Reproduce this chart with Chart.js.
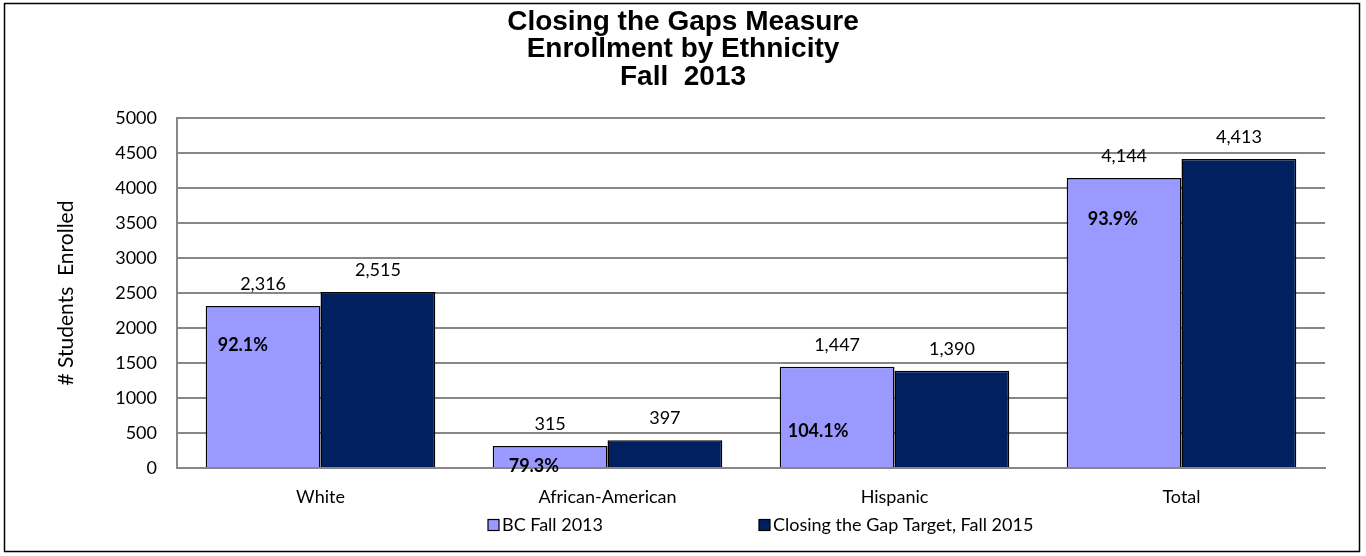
<!DOCTYPE html>
<html>
<head>
<meta charset="utf-8">
<script src="https://cdn.jsdelivr.net/npm/chart.js@4.4.0/dist/chart.umd.min.js"></script>
<style>
  html, body { margin: 0; padding: 0; background: #fff; }
  #wrap { position: relative; width: 1366px; height: 556px; }
</style>
</head>
<body>
<div id="wrap"><canvas id="chart" width="1366" height="556"></canvas></div>
<script>
const titleLines = ['Closing the Gaps Measure', 'Enrollment by Ethnicity', 'Fall  2013'];
const categories = ['White', 'African-American', 'Hispanic', 'Total'];
const bcFall2013 = [2316, 315, 1447, 4144];
const target2015 = [2515, 397, 1390, 4413];
const seriesNames = ['BC Fall 2013', 'Closing the Gap Target, Fall 2015'];
const yAxisTitle = '# Students  Enrolled';
const yMax = 5000;
const yStep = 500;

const LIGHT = '#9999ff';
const DARK = '#002060';
const GRID = '#878787';
const FONT = 'Lato, "Open Sans", sans-serif';

const pctLabels = bcFall2013.map((v, i) => (v / target2015[i] * 100).toFixed(1) + '%');

const fmt = n => n.toLocaleString('en-US');

const extras = {
    id: 'extras',
    afterDatasetsDraw(chart, args, opts) {
        const ctx = chart.ctx;
        const y = chart.scales.y;
        ctx.save();
        // value labels above bars
        ctx.fillStyle = '#000';
        ctx.font = '18px ' + FONT;
        ctx.textAlign = 'center';
        ctx.textBaseline = 'middle';
        chart.data.datasets.forEach((ds, di) => {
            chart.getDatasetMeta(di).data.forEach((bar, i) => {
                ctx.fillText(fmt(ds.data[i]), bar.x, bar.y - 22);
            });
        });
        // percentage labels inside the light bars
        ctx.font = 'bold 18px ' + FONT;
        ctx.textAlign = 'left';
        chart.getDatasetMeta(0).data.forEach((bar, i) => {
            ctx.fillText(pctLabels[i], bar.x - bar.width / 2 + opts.pctDx[i], y.getPixelForValue(opts.pctAt[i]));
        });
        ctx.restore();
    },
    afterDraw(chart, args, opts) {
        const ctx = chart.ctx;
        const area = chart.chartArea;
        ctx.save();
        // outer frame
        ctx.strokeStyle = '#000';
        ctx.lineWidth = 1.5;
        ctx.strokeRect(4.5, 3.5, 1355, 548);
        // title, centred on the whole frame
        ctx.fillStyle = '#000';
        ctx.font = 'bold 28px "Liberation Sans", Arial, sans-serif';
        ctx.textAlign = 'center';
        ctx.textBaseline = 'middle';
        titleLines.forEach((t, i) => ctx.fillText(t, chart.width / 2, opts.titleY + i * 27.5));
        // legend
        ctx.font = '18px ' + FONT;
        ctx.textAlign = 'left';
        const box = 11, gapBox = 3, gapItem = 156;
        let x = area.left + opts.legendDx;
        const ly = opts.legendY;
        chart.data.datasets.forEach(ds => {
            ctx.fillStyle = ds.backgroundColor;
            ctx.fillRect(x, ly - box / 2, box, box);
            ctx.strokeStyle = '#000';
            ctx.lineWidth = 1.2;
            ctx.strokeRect(x, ly - box / 2, box, box);
            ctx.fillStyle = '#000';
            ctx.fillText(ds.label, x + box + gapBox, ly);
            x += box + gapBox + ctx.measureText(ds.label).width + gapItem;
        });
        ctx.restore();
    }
};

new Chart(document.getElementById('chart'), {
    type: 'bar',
    data: {
        labels: categories,
        datasets: [
            { label: seriesNames[0], data: bcFall2013, backgroundColor: LIGHT, borderColor: '#000', borderWidth: 1.5 },
            { label: seriesNames[1], data: target2015, backgroundColor: DARK, borderColor: '#000', borderWidth: 1.5 }
        ]
    },
    options: {
        responsive: false,
        animation: false,
        events: [],
        layout: { padding: { left: 0, right: 41, top: 118, bottom: 38 } },
        datasets: { bar: { categoryPercentage: 0.8, barPercentage: 1 } },
        plugins: {
            legend: { display: false },
            tooltip: { enabled: false },
            title: { display: false },
            extras: {
                titleY: 22,
                pctAt: [1760, 30, 520, 3560],
                pctDx: [12, 16, 8, 21],
                legendDx: 311,
                legendY: 525
            }
        },
        scales: {
            x: {
                grid: { display: false, drawTicks: false },
                border: { display: true, color: GRID, width: 2 },
                ticks: { color: '#000', font: { family: FONT, size: 18 }, padding: 18 },
                afterFit(s) { s.height = 50; }
            },
            y: {
                min: 0,
                max: yMax,
                ticks: { stepSize: yStep, color: '#000', font: { family: FONT, size: 18 }, padding: 20, callback: v => String(v) },
                grid: { color: GRID, lineWidth: 2, drawTicks: false },
                border: { display: true, color: GRID, width: 2 },
                title: {
                    display: true,
                    text: yAxisTitle,
                    color: '#000',
                    font: { family: FONT, size: 21 },
                    padding: { top: 54, bottom: 0 }
                },
                afterFit(s) { s.width = 177; }
            }
        }
    },
    plugins: [extras]
});
</script>
</body>
</html>
